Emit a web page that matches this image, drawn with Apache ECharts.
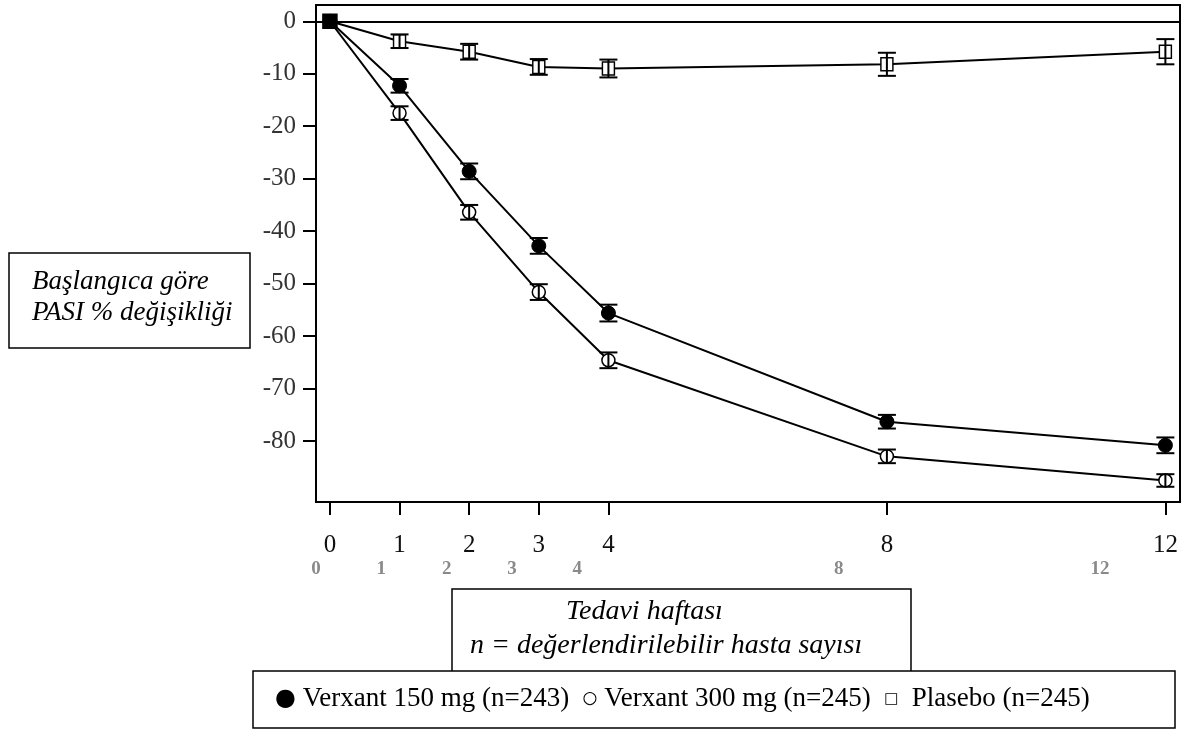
<!DOCTYPE html>
<html>
<head>
<meta charset="utf-8">
<script src="https://cdn.jsdelivr.net/npm/echarts@6/dist/echarts.min.js"></script>
<style>
html,body{margin:0;padding:0;background:#fff;}
#main{width:1184px;height:731px;}
</style>
</head>
<body>
<div id="main"></div>
<script>
// ---- data ----
var weeks = [0, 1, 2, 3, 4, 8, 12];
var tickWeeks = [0, 1, 2, 3, 4, 8, 12];
var yTicks = [0, -10, -20, -30, -40, -50, -60, -70, -80];
var v150 = [0, -12.3, -28.6, -42.8, -55.6, -76.3, -80.8];
var e150 = [0, 1.3, 1.5, 1.5, 1.6, 1.3, 1.5];
var v300 = [0, -17.5, -36.4, -51.6, -64.6, -82.9, -87.5];
var e300 = [0, 1.3, 1.4, 1.5, 1.5, 1.3, 1.2];
var vPla = [0, -3.8, -5.8, -8.7, -9.0, -8.2, -5.8];
var ePla = [0, 1.3, 1.5, 1.5, 1.7, 2.2, 2.4];
var seriesNames = ['Verxant 150 mg (n=243)', 'Verxant 300 mg (n=245)', 'Plasebo (n=245)'];
var yTitleLines = ['Başlangıca göre', 'PASI % değişikliği'];
var xTitleLines = ['Tedavi haftası', 'n = değerlendirilebilir hasta sayısı'];

var SERIF = '"Liberation Serif", "DejaVu Serif", serif';

function pairs(vals) { return weeks.map(function (w, i) { return [w, vals[i]]; }); }
function errData(vals, errs) { return weeks.map(function (w, i) { return [w, vals[i], errs[i]]; }); }

function renderErr(params, api) {
  var x = api.value(0), v = api.value(1), e = api.value(2);
  if (!e) return null;
  var top = api.coord([x, v + e]);
  var bot = api.coord([x, v - e]);
  var cap = 9;
  var st = { stroke: '#000', lineWidth: 2 };
  return {
    type: 'group',
    children: [
      { type: 'line', shape: { x1: top[0], y1: top[1], x2: bot[0], y2: bot[1] }, style: st },
      { type: 'line', shape: { x1: top[0] - cap, y1: top[1], x2: top[0] + cap, y2: top[1] }, style: st },
      { type: 'line', shape: { x1: bot[0] - cap, y1: bot[1], x2: bot[0] + cap, y2: bot[1] }, style: st }
    ]
  };
}

var plaData = pairs(vPla).map(function (p, i) {
  if (i === 0) return { value: p, symbolSize: 14, itemStyle: { color: '#000', borderColor: '#000' } };
  return p;
});

var chart = echarts.init(document.getElementById('main'), null, { renderer: 'canvas' });
chart.setOption({
  animation: false,
  backgroundColor: '#fff',
  grid: { left: 316, top: 5, right: 4, bottom: 229, show: true, borderColor: '#000', borderWidth: 2, backgroundColor: 'transparent' },
  xAxis: [
    {
      type: 'value', min: -0.2, max: 12.21, position: 'bottom', offset: 1,
      axisLine: { show: false, onZero: false },
      splitLine: { show: false },
      axisTick: { show: true, length: 12, lineStyle: { color: '#000', width: 2 }, customValues: tickWeeks },
      axisLabel: { customValues: tickWeeks, fontFamily: SERIF, fontSize: 25, color: '#111', margin: 30 }
    },
    {
      type: 'value', min: 0, max: 13.225, position: 'bottom', offset: 0,
      axisLine: { show: false, onZero: false }, splitLine: { show: false }, axisTick: { show: false },
      axisLabel: { customValues: tickWeeks, fontFamily: SERIF, fontSize: 19, fontWeight: 'bold', color: '#8a8a8a', margin: 58 }
    }
  ],
  yAxis: {
    type: 'value', min: -91.6, max: 3.1,
    axisLine: { show: false, onZero: false },
    splitLine: { show: false },
    axisTick: { show: true, length: 13, lineStyle: { color: '#000', width: 2 }, customValues: yTicks },
    axisLabel: { customValues: yTicks, fontFamily: SERIF, fontSize: 25, color: '#333', margin: 20 }
  },
  series: [
    {
      name: seriesNames[0], type: 'line', data: pairs(v150), z: 2,
      symbol: 'circle', symbolSize: 14,
      lineStyle: { color: '#000', width: 2 },
      itemStyle: { color: '#000', borderColor: '#000', borderWidth: 1 }
    },
    {
      name: seriesNames[1], type: 'line', data: pairs(v300), z: 2,
      symbol: 'circle', symbolSize: 13,
      lineStyle: { color: '#000', width: 2 },
      itemStyle: { color: '#fff', borderColor: '#000', borderWidth: 1.5 }
    },
    {
      name: seriesNames[2], type: 'line', data: plaData, z: 3,
      symbol: 'rect', symbolSize: [12, 13],
      lineStyle: { color: '#000', width: 2 },
      itemStyle: { color: '#fff', borderColor: '#000', borderWidth: 1.5 },
      markLine: {
        silent: true, symbol: 'none', animation: false,
        label: { show: false },
        lineStyle: { color: '#000', width: 2, type: 'solid' },
        data: [{ yAxis: 0 }]
      }
    },
    { type: 'custom', renderItem: renderErr, data: errData(v150, e150), z: 5, silent: true },
    { type: 'custom', renderItem: renderErr, data: errData(v300, e300), z: 5, silent: true },
    { type: 'custom', renderItem: renderErr, data: errData(vPla, ePla), z: 5, silent: true }
  ],
  graphic: [
    { type: 'rect', shape: { x: 9, y: 253, width: 241, height: 95 }, style: { fill: 'none', stroke: '#000', lineWidth: 1.5 } },
    { type: 'text', x: 32, y: 282, style: { text: yTitleLines[0], font: 'italic 27px ' + SERIF, fill: '#000', verticalAlign: 'middle' } },
    { type: 'text', x: 32, y: 313, style: { text: yTitleLines[1], font: 'italic 27px ' + SERIF, fill: '#000', verticalAlign: 'middle' } },
    { type: 'polyline', shape: { points: [[452, 671], [452, 589], [911, 589], [911, 671]] }, style: { fill: 'none', stroke: '#000', lineWidth: 1.5 } },
    { type: 'text', x: 566, y: 612, style: { text: xTitleLines[0], font: 'italic 28px ' + SERIF, fill: '#000', verticalAlign: 'middle' } },
    { type: 'text', x: 470, y: 646, style: { text: xTitleLines[1], font: 'italic 28px ' + SERIF, fill: '#000', verticalAlign: 'middle' } },
    { type: 'rect', shape: { x: 253, y: 671, width: 922, height: 57 }, style: { fill: 'none', stroke: '#000', lineWidth: 1.5 } },
    {
      type: 'text', x: 275, y: 699,
      style: {
        text: '{big|●} ' + seriesNames[0] + '  {sm|○} ' + seriesNames[1] + '  {sq|□}  ' + seriesNames[2],
        font: '27px ' + SERIF, fill: '#000', verticalAlign: 'middle',
        rich: {
          big: { fontSize: 24, fontFamily: 'DejaVu Sans', fill: '#000' },
          sm: { fontSize: 17, fontFamily: 'DejaVu Sans', fill: '#000' },
          sq: { fontSize: 15, fontFamily: 'DejaVu Sans', fill: '#000' }
        }
      }
    }
  ]
});
</script>
</body>
</html>
